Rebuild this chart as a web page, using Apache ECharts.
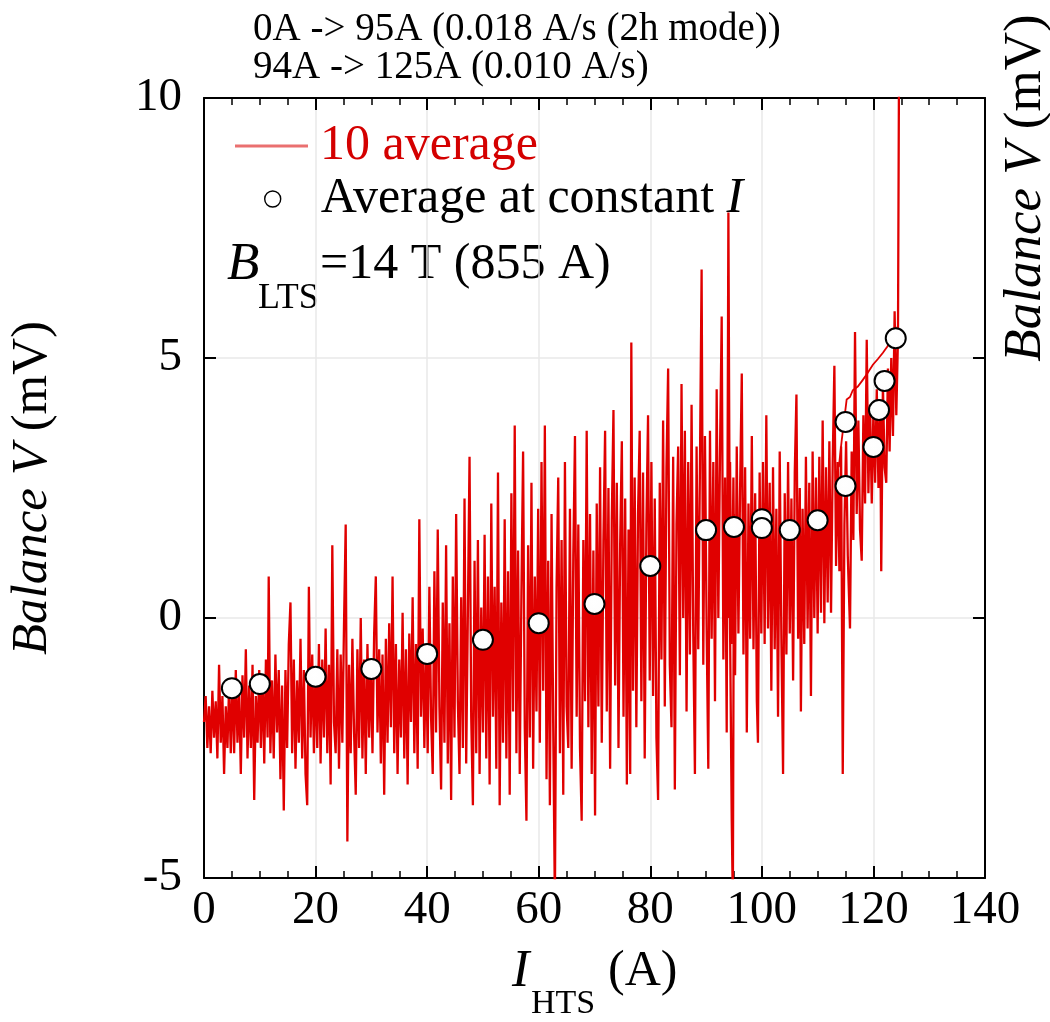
<!DOCTYPE html>
<html>
<head>
<meta charset="utf-8">
<script src="https://cdn.jsdelivr.net/npm/echarts/dist/echarts.min.js"></script>
<style>
html,body{margin:0;padding:0;background:#fff;}
#chart{width:1050px;height:1022px;}
</style>
</head>
<body>
<div id="chart"></div>
<script>
// ---------------- DATA ----------------
const titleLines = ['0A -> 95A (0.018 A/s (2h mode))', '94A -> 125A (0.010 A/s)'];
const xTicks = [0, 20, 40, 60, 80, 100, 120, 140];
const yTicks = [-5, 0, 5, 10];

// Ramp 0A -> 95A, 10-point average of balance voltage [I (A), V (mV)]
const ramp1 = [
[0,-2.0],[0.3,-1.5],[0.6,-2.5],[0.9,-1.7],[1.2,-2.6],[1.5,-1.4],[1.8,-2.3],[2.1,-1.6],[2.4,-2.7],[2.7,-0.9],[3.0,-2.4],[3.3,-1.5],[3.6,-3.0],[3.9,-1.7],[4.2,-2.5],[4.5,-1.3],[4.8,-2.6],
[5.1,-1.2],[5.4,-2.6],[5.7,-1.0],[6.0,-2.4],[6.3,-1.4],[6.6,-3.0],[6.9,-1.1],[7.2,-2.3],[7.5,-0.6],[7.8,-2.7],[8.1,-1.3],[8.4,-2.5],[8.7,-0.9],[9.0,-3.5],[9.3,-1.5],[9.6,-2.4],[9.9,-1.0],
[10.2,-2.5],[10.5,-1.1],[10.8,-2.8],[11.1,-0.8],[11.4,-2.3],[11.6,0.8],[11.9,-2.6],[12.2,-1.2],[12.5,-2.7],[12.8,-0.7],[13.1,-2.2],[13.4,-1.0],[13.7,-3.1],[14.0,-1.3],[14.3,-3.7],[14.6,-1.0],[14.9,-2.5],[15.2,-0.5],[15.5,0.3],[15.8,-2.6],[16.1,-0.8],[16.4,-2.9],[16.7,-1.2],[17.0,-2.4],[17.3,-0.4],[17.6,-2.7],[17.9,-1.0],[18.2,-3.0],[18.5,-3.6],[18.8,0.6],[19.1,-2.3],[19.4,-0.7],[19.7,-2.6],[20.0,-1.0],
[20.3,-2.5],[20.6,-0.5],[20.9,-2.8],[21.2,-0.8],[21.5,-2.3],[21.8,-0.2],[22.1,-2.6],[22.4,-0.9],[22.7,-3.2],[23.0,1.4],[23.3,-2.0],[23.6,-2.6],[23.9,-0.6],[24.2,-2.9],[24.5,-0.7],[24.8,-2.4],[25.1,-0.1],[25.4,1.8],[25.7,-4.3],[26.0,-0.9],[26.3,-2.6],[26.6,-0.4],[26.9,-2.2],[27.2,-3.4],[27.5,-0.6],[27.8,-2.5],[28.1,0.0],[28.4,-2.7],[28.7,-0.8],[29.0,-3.0],[29.3,-0.5],[29.6,-2.3],[29.9,-0.9],
[30.2,-2.6],[30.5,-0.3],[30.8,0.8],[31.1,-2.2],[31.4,-0.6],[31.7,-2.8],[32.0,-0.7],[32.3,-3.4],[32.6,-0.4],[32.9,-2.4],[33.2,-0.1],[33.5,-2.1],[33.8,0.8],[34.1,-2.6],[34.4,-0.5],[34.7,-3.0],[35.0,-0.8],[35.3,-2.3],[35.6,0.1],[35.9,-2.7],[36.2,-0.6],[36.5,-3.2],[36.8,-0.3],[37.1,-2.0],[37.4,0.4],[37.7,-2.6],[38.0,-0.5],[38.3,-2.9],[38.6,1.9],[38.9,-1.9],[39.2,-0.2],[39.5,-2.5],[39.8,-0.6],
[40.1,-2.6],[40.4,0.6],[40.7,-1.9],[41.0,-3.0],[41.3,0.9],[41.6,-2.2],[41.9,1.7],[42.2,-1.7],[42.5,-3.3],[42.8,0.3],[43.1,-2.4],[43.4,1.4],[43.7,-2.8],[44.0,-0.1],[44.3,-3.5],[44.6,0.8],[44.9,-2.3],[45.2,2.0],[45.5,-1.6],[45.8,-3.0],[46.1,0.4],[46.4,-2.5],[46.7,2.3],[47.0,-2.8],[47.3,0.1],[47.6,3.1],[47.9,-1.9],[48.2,-3.6],[48.5,1.1],[48.8,-2.6],[49.1,1.5],[49.4,-3.0],[49.7,0.2],[50.0,-2.2],
[50.3,1.6],[50.6,-2.7],[50.9,0.8],[51.2,-3.2],[51.5,2.2],[51.8,-1.9],[52.1,0.6],[52.4,-2.9],[52.7,2.8],[53.0,-3.6],[53.3,0.3],[53.6,-2.4],[53.9,1.9],[54.2,-2.7],[54.5,0.9],[54.8,-3.4],[55.1,2.4],[55.4,-1.8],[55.7,3.7],[56.0,-2.6],[56.3,1.3],[56.6,-3.0],[56.9,0.5],[57.2,3.2],[57.5,-2.1],[57.8,-3.9],[58.1,1.4],[58.4,-2.3],[58.7,2.6],[59.0,-2.9],[59.3,0.8],[59.6,-1.8],[59.9,2.1],
[60.2,-2.4],[60.5,3.0],[60.8,-1.4],[61.1,3.7],[61.4,-3.1],[61.7,1.1],[62.0,-3.6],[62.3,2.0],[62.6,-2.1],[62.9,-5.5],[63.2,0.6],[63.5,2.7],[63.8,-2.6],[64.1,1.5],[64.4,-3.4],[64.7,3.0],[65.0,-1.7],[65.3,-2.5],[65.6,2.1],[65.9,-2.9],[66.2,1.2],[66.5,3.5],[66.8,-1.9],[67.1,1.8],[67.4,-2.5],[67.7,-3.9],[68.0,1.5],[68.3,-1.6],[68.6,3.6],[68.9,-2.1],[69.2,2.0],[69.5,-3.0],[69.8,1.3],
[70.1,-3.8],[70.4,2.2],[70.7,-1.7],[71.0,2.9],[71.3,-2.4],[71.6,1.5],[71.9,3.6],[72.2,-1.8],[72.5,2.5],[72.8,-2.9],[73.1,1.9],[73.4,4.0],[73.7,-1.3],[74.0,2.6],[74.3,-2.5],[74.6,1.4],[74.9,3.4],[75.2,-1.9],[75.5,2.3],[75.8,-3.2],[76.1,1.7],[76.4,-3.0],[76.6,5.3],[76.9,-1.4],[77.2,2.7],[77.5,-2.1],[77.8,2.0],[78.1,3.6],[78.4,-1.6],[78.7,2.8],[79.0,-2.7],[79.3,1.8],[79.6,3.9],[79.9,-1.2],
[80.2,3.0],[80.5,-1.5],[80.8,2.3],[81.1,-2.3],[81.4,-3.5],[81.7,2.6],[82.0,-0.8],[82.3,3.8],[82.6,-1.7],[82.9,2.9],[83.2,4.8],[83.5,-0.9],[83.8,-2.1],[84.1,3.1],[84.4,-3.3],[84.7,1.8],[85.0,3.3],
[85.3,-1.1],[85.6,4.5],[85.9,0.0],[86.2,3.6],[86.5,-1.8],[86.8,3.0],[87.1,-0.7],[87.4,4.1],[87.7,-0.3],[88.0,-3.0],[88.3,3.3],[88.6,-0.6],[88.9,2.9],[89.2,6.7],[89.5,-0.9],[89.8,3.5],[90.1,-0.2],[90.4,-2.9],
[90.7,3.6],[91.0,-0.4],[91.3,3.0],[91.6,-1.6],[91.9,4.4],[92.2,0.0],[92.5,3.2],[92.8,5.8],[93.1,-0.8],[93.4,2.7],[93.7,-2.2],[94.0,7.8],[94.3,-0.2],[94.6,-3.9],[94.8,-5.5],[95.0,2.0]
];

// Ramp 94A -> 125A
const ramp2 = [
[94.0,0.0],[94.3,3.0],[94.6,-0.5],[94.9,2.7],[95.2,-1.1],[95.5,3.3],[95.8,-0.3],[96.1,2.5],[96.4,4.7],[96.7,-0.7],[97.0,2.9],[97.3,-2.2],[97.6,2.2],[97.9,-0.4],[98.2,3.5],[98.5,-0.6],[98.8,2.4],[99.1,-1.6],[99.3,-2.4],[99.6,2.8],[99.9,-0.3],
[100.2,3.0],[100.5,-0.5],[100.8,3.9],[101.1,-0.2],[101.4,2.6],[101.7,-1.4],[102.0,2.9],[102.3,-0.6],[102.6,2.1],[102.9,-1.9],[103.2,3.2],[103.5,-0.4],[103.8,-3.0],[104.1,2.4],[104.4,-0.7],[104.7,3.0],[105.0,-0.3],
[105.3,2.3],[105.6,-1.2],[105.9,2.8],[106.2,4.3],[106.5,-0.4],[106.8,2.5],[107.0,-1.8],[107.3,2.1],[107.6,-0.5],[107.9,3.1],[108.2,-0.2],[108.5,2.6],[108.8,-1.5],[109.1,3.2],[109.4,0.0],[109.7,2.7],[110.0,-0.3],
[110.3,3.1],[110.6,0.1],[110.9,3.8],[111.2,-0.1],[111.5,2.9],[111.8,0.3],[112.1,3.4],[112.4,0.1],[112.7,3.0],[113.0,4.85],
[113.3,1.0],[113.6,3.0],[113.9,0.9],[114.2,3.3],[114.5,-3.0],[114.8,1.8],[115.1,3.4],[115.4,1.2],[115.8,-0.2],[116.1,3.2],[116.4,1.5],[116.7,5.5],[117.0,2.0],
[117.3,3.8],[117.6,1.7],[117.9,1.1],[118.2,3.9],[118.5,2.2],[118.8,5.35],[119.1,2.4],[119.4,4.1],[119.7,2.2],[120.0,4.0],[120.3,2.6],[120.6,4.4],[120.9,2.5],
[121.2,4.2],[121.4,0.9],[121.7,4.5],[122.0,2.9],[122.3,2.6],[122.6,4.8],[122.9,3.2],[123.2,5.0],[123.5,3.5],[123.8,5.9],[124.1,3.9],[124.4,5.4],[124.6,11]
];

// Smooth upper branch near the end of the second ramp
const ramp2Upper = [
[113.8,2.9],[114.3,3.4],[114.8,3.85],[115.2,4.2],[115.8,4.25],[116.3,4.38],[117.2,4.45],[118.1,4.58],[118.9,4.7],[119.9,4.87],[120.8,4.98],[121.7,5.1],[122.5,5.22],[123.2,5.35],[123.8,5.45],[124.3,5.6]
];

// Averages at constant current
const constI = [5, 10, 20, 30, 40, 50, 60, 70, 80, 90, 95, 100, 100, 105, 110, 115, 115, 120, 121, 122, 124];
const constV = [-1.35, -1.27, -1.13, -0.98, -0.69, -0.42, -0.10, 0.27, 1.00, 1.69, 1.75, 1.90, 1.73, 1.69, 1.88, 2.54, 3.77, 3.29, 4.00, 4.56, 5.38];

// ---------------- CHART ----------------
const FONT = '"Liberation Serif","Times New Roman",Times,serif';
const RED = '#e00000';
const chart = echarts.init(document.getElementById('chart'), null, {renderer: 'canvas'});

const axisCommon = {
  type: 'value',
  axisLine: {show: true, onZero: false, lineStyle: {color: '#000', width: 2}},
  axisTick: {show: true, inside: true, length: 12, lineStyle: {color: '#000', width: 2}},
};

const lineSeries = (data, w) => ({
  name: '10 average', type: 'line', data: data,
  xAxisIndex: 0, yAxisIndex: 0,
  showSymbol: false, symbol: 'none', smooth: false,
  lineStyle: {color: RED, width: w, opacity: 1, join: 'miter', miterLimit: 3},
  itemStyle: {color: RED},
  clip: true, animation: false, z: 2
});

const option = {
  animation: false,
  backgroundColor: '#fff',
  title: {
    text: titleLines.join('\n'),
    left: 253, top: 11, padding: 0,
    textStyle: {fontFamily: FONT, fontSize: 39, fontWeight: 'normal', color: '#000', lineHeight: 38}
  },
  grid: {left: 204, top: 98, width: 781, height: 780, containLabel: false, outerBoundsMode: 'none'},
  legend: [
    {
      left: 235, top: 121, padding: 0, orient: 'vertical', selectedMode: false,
      itemWidth: 73, itemHeight: 3,
      data: [{name: '10 average', icon: 'rect', itemStyle: {color: '#ea7070', borderWidth: 0, opacity: 1}, lineStyle: {width: 0}}],
      formatter: (n) => '{sp| }{t|' + n + '}',
      textStyle: {fontFamily: FONT, fontSize: 50, color: '#d40000',
        rich: {sp: {width: 7, fontSize: 50, fontFamily: FONT}, t: {fontFamily: FONT, fontSize: 50, color: '#d40000'}}}
    },
    {
      left: 264, top: 174, padding: 0, orient: 'vertical', selectedMode: false,
      itemWidth: 16, itemHeight: 16,
      data: [{name: 'Average at constant I', icon: 'circle', itemStyle: {color: '#fff', borderColor: '#000', borderWidth: 1.4, opacity: 1}}],
      formatter: () => '{sp| }{t|Average at constant }{it|I}',
      textStyle: {fontFamily: FONT, fontSize: 50, color: '#000',
        rich: {sp: {width: 35, fontSize: 50, fontFamily: FONT},
               t: {fontFamily: FONT, fontSize: 50, color: '#000'},
               it: {fontFamily: FONT, fontSize: 50, fontStyle: 'italic', color: '#000'}}}
    }
  ],
  xAxis: [
    Object.assign({}, axisCommon, {
      position: 'bottom', min: 0, max: 140, interval: 20,
      minorTick: {show: true, splitNumber: 4, length: 7, lineStyle: {color: '#000', width: 1.5}},
      axisLabel: {show: true, margin: 9, fontFamily: FONT, fontSize: 47, color: '#000',
        formatter: (v) => xTicks.indexOf(v) >= 0 ? String(v) : ''},
      splitLine: {show: true, lineStyle: {color: '#e8e8e8', width: 1.5}}
    }),
    Object.assign({}, axisCommon, {
      position: 'top', min: 0, max: 140, interval: 20,
      minorTick: {show: true, splitNumber: 4, length: 7, lineStyle: {color: '#000', width: 1.5}},
      axisLabel: {show: false}, splitLine: {show: false}
    })
  ],
  yAxis: [
    Object.assign({}, axisCommon, {
      position: 'left', min: -5, max: 10, interval: 5,
      axisLabel: {show: true, margin: 22, fontFamily: FONT, fontSize: 47, color: '#000',
        formatter: (v) => yTicks.indexOf(v) >= 0 ? String(v) : ''},
      splitLine: {show: true, lineStyle: {color: '#e8e8e8', width: 1.5}}
    }),
    Object.assign({}, axisCommon, {
      position: 'right', min: -5, max: 10, interval: 5,
      axisLabel: {show: false}, splitLine: {show: false}
    })
  ],
  series: [
    lineSeries(ramp1, 2.3),
    lineSeries(ramp2, 2.3),
    lineSeries(ramp2Upper, 1.8),
    {
      name: 'Average at constant I', type: 'scatter',
      xAxisIndex: 0, yAxisIndex: 0,
      data: constI.map((x, i) => [x, constV[i]]),
      symbol: 'circle', symbolSize: 20,
      itemStyle: {
        opacity: 1,
        color: {type: 'radial', x: 0.45, y: 0.4, r: 0.7,
          colorStops: [{offset: 0, color: '#ffffff'}, {offset: 0.7, color: '#fdfdfd'}, {offset: 1, color: '#d2d2d2'}]},
        borderColor: '#000', borderWidth: 2
      },
      emphasis: {disabled: true},
      z: 5, animation: false
    }
  ],
  graphic: [
    {type: 'text', x: 227, y: 265, silent: true,
      style: {text: 'B', font: 'italic 53px ' + FONT, fill: '#000', align: 'left', verticalAlign: 'middle'}},
    {type: 'text', x: 258, y: 299, silent: true,
      style: {text: 'LTS', font: '36px ' + FONT, fill: '#000', align: 'left', verticalAlign: 'middle'}},
    {type: 'text', x: 320, y: 265, silent: true,
      style: {text: '=14 T (855 A)', font: '50px ' + FONT, fill: '#000', align: 'left', verticalAlign: 'middle'}},
    // x-axis name
    {type: 'text', x: 512, y: 972, silent: true,
      style: {text: 'I', font: 'italic 52px ' + FONT, fill: '#000', align: 'left', verticalAlign: 'middle'}},
    {type: 'text', x: 531, y: 1004, silent: true,
      style: {text: 'HTS', font: '34px ' + FONT, fill: '#000', align: 'left', verticalAlign: 'middle'}},
    {type: 'text', x: 608, y: 972, silent: true,
      style: {text: '(A)', font: '50px ' + FONT, fill: '#000', align: 'left', verticalAlign: 'middle'}},
    // y-axis names
    {type: 'text', x: 33, y: 488, rotation: Math.PI / 2, silent: true,
      style: {text: '{i|Balance V} {n|(mV)}', font: '51px ' + FONT, fill: '#000', align: 'center', verticalAlign: 'middle',
        rich: {i: {fontStyle: 'italic', fontSize: 51, fontFamily: FONT, fill: '#000'}, n: {fontSize: 51, fontFamily: FONT, fill: '#000'}}}},
    {type: 'text', x: 1026, y: 188, rotation: Math.PI / 2, silent: true,
      style: {text: '{i|Balance V} {n|(mV)}', font: '53px ' + FONT, fill: '#000', align: 'center', verticalAlign: 'middle',
        rich: {i: {fontStyle: 'italic', fontSize: 53, fontFamily: FONT, fill: '#000'}, n: {fontSize: 53, fontFamily: FONT, fill: '#000'}}}}
  ]
};
chart.setOption(option);
</script>
</body>
</html>
